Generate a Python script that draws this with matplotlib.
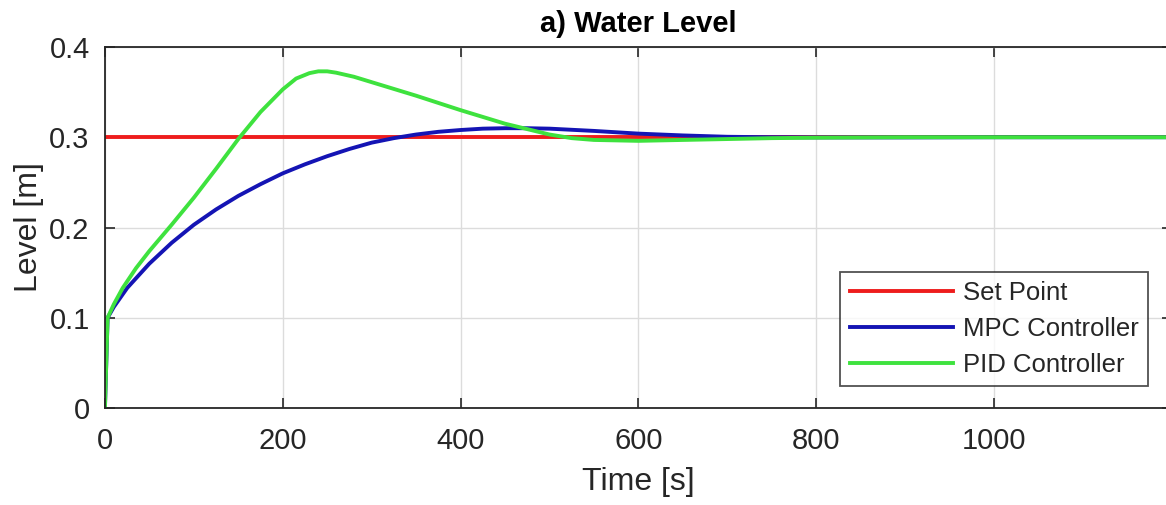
import numpy as np
import matplotlib.pyplot as plt

plt.rcParams['font.family'] = ['Liberation Sans', 'DejaVu Sans']

# set point
t_sp = [0, 1200]
level_sp = [0.3, 0.3]

# MPC controller response
t_mpc = [0, 3, 10, 25, 50, 75, 100, 125, 150, 175, 200, 225, 250, 275, 300,
         325, 350, 375, 400, 425, 450, 475, 500, 550, 600, 650, 700, 750,
         800, 900, 1000, 1200]
level_mpc = [0.0, 0.1, 0.112, 0.133, 0.16, 0.183, 0.203, 0.22, 0.235, 0.248,
             0.26, 0.27, 0.279, 0.287, 0.294, 0.299, 0.303, 0.306, 0.308,
             0.3095, 0.31, 0.31, 0.3095, 0.307, 0.304, 0.302, 0.3005, 0.3,
             0.2998, 0.2998, 0.3, 0.3]

# PID controller response
t_pid = [0, 3, 10, 20, 35, 50, 75, 100, 125, 150, 175, 200, 215, 230, 240,
         250, 260, 280, 300, 350, 400, 450, 475, 500, 525, 550, 600, 650,
         700, 750, 800, 900, 1200]
level_pid = [0.0, 0.1, 0.115, 0.133, 0.155, 0.174, 0.203, 0.233, 0.265, 0.298,
             0.328, 0.353, 0.365, 0.371, 0.373, 0.373, 0.3715, 0.367, 0.361,
             0.346, 0.33, 0.315, 0.309, 0.303, 0.299, 0.297, 0.296, 0.297,
             0.298, 0.299, 0.2995, 0.3, 0.3]

fig = plt.figure(figsize=(11.66, 5.05), dpi=100)
ax = fig.add_axes([0.09, 0.192, 0.915, 0.715])

ax.plot(t_sp, level_sp, color='#ee1c1c', lw=2.8, label='Set Point')
ax.plot(t_mpc, level_mpc, color='#1414b4', lw=2.8, label='MPC Controller')
ax.plot(t_pid, level_pid, color='#3ee23e', lw=2.8, label='PID Controller')

ax.set_xlim(0, 1200)
ax.set_ylim(0, 0.4)
ax.set_xticks([0, 200, 400, 600, 800, 1000])
ax.set_yticks([0, 0.1, 0.2, 0.3, 0.4])
ax.set_yticklabels(['0', '0.1', '0.2', '0.3', '0.4'])

# matlab-ish look
ax.grid(True, color='#dcdcdc', lw=1)
ax.set_axisbelow(True)
ax.tick_params(direction='in', length=7, width=1.2, top=True, right=True,
               labelsize=21, colors='#262626')
ax.tick_params(axis='x', pad=14)
ax.tick_params(axis='y', pad=11)
for sp in ax.spines.values():
    sp.set_color('#262626')
    sp.set_linewidth(1.3)

ax.set_title('a) Water Level', fontsize=21, fontweight='bold', pad=11)
ax.set_xlabel('Time [s]', fontsize=23, color='#262626', labelpad=8)
ax.set_ylabel('Level [m]', fontsize=23, color='#262626', labelpad=4)

leg = ax.legend(loc='lower right', bbox_to_anchor=(0.978, 0.06), fontsize=18.5,
                frameon=True, fancybox=False, edgecolor='#262626',
                handlelength=4.0, handletextpad=0.4, borderpad=0.38,
                labelspacing=0.45, borderaxespad=0)
leg.get_frame().set_linewidth(1.3)
for txt in leg.get_texts():
    txt.set_color('#262626')

fig.savefig('out.png', dpi=100)
